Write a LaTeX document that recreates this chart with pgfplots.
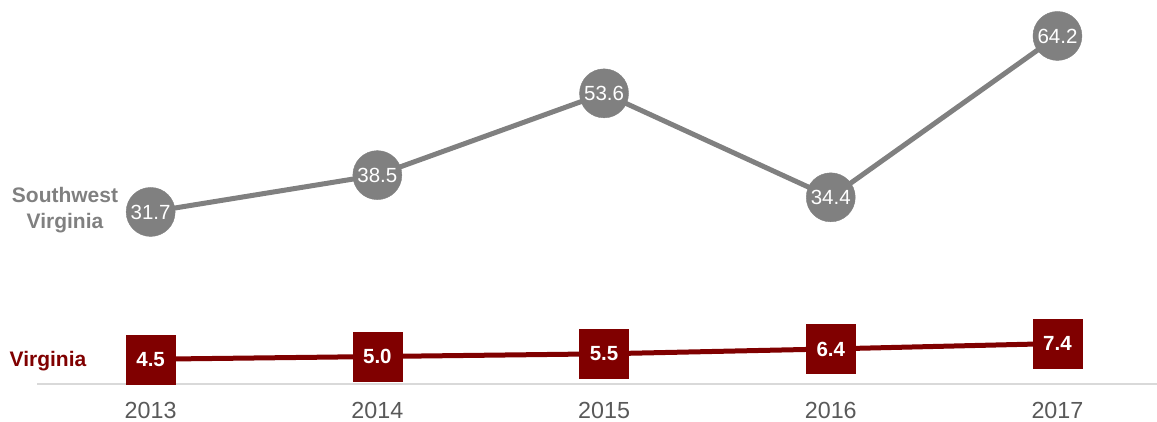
\documentclass[border=0pt]{standalone}
\usepackage{pgfplots}
\pgfplotsset{compat=1.18}
\usepackage{fontspec}
\setmainfont{Liberation Sans}
\definecolor{swgray}{HTML}{808080}
\definecolor{vared}{HTML}{800000}
\definecolor{ticktext}{HTML}{595959}
\definecolor{axisgray}{HTML}{D9D9D9}
\begin{document}
\begin{tikzpicture}
\path[use as bounding box] (0,0) rectangle (1157pt,421pt);
\begin{axis}[
  at={(37.3pt,37.4pt)}, anchor=south west,
  x=226.7pt, y=5.415pt,
  xmin=2012.5, xmax=2017.438, ymin=0, ymax=70.8,
  axis x line*=bottom, axis y line=none,
  x axis line style={-, draw=axisgray, line width=2pt},
  xtick={2013,2014,2015,2016,2017},
  xticklabels={2013,2014,2015,2016,2017},
  major tick length=0pt,
  xticklabel style={anchor=center, yshift=-26.5pt, inner sep=0pt, font=\fontsize{23.3}{26}\selectfont, text=ticktext},
  ytick=\empty,
  clip=false,
  point meta=explicit symbolic,
  nodes near coords,
  nodes near coords align={center},
  every node near coord/.append style={anchor=center, text=white, inner sep=0pt},
]
\addplot[draw=swgray, line width=5pt, mark=*, mark size=24.5pt,
  mark options={fill=swgray, draw=swgray, line width=0.4pt},
  every node near coord/.append style={font=\fontsize{20.5}{24}\selectfont}]
  coordinates {(2013,31.7) [31.7] (2014,38.5) [38.5] (2015,53.6) [53.6] (2016,34.4) [34.4] (2017,64.2) [64.2]};
\addplot[draw=vared, line width=5pt, mark=square*, mark size=24.5pt,
  mark options={fill=vared, draw=vared, line width=0.4pt},
  every node near coord/.append style={font=\bfseries\fontsize{20.5}{24}\selectfont}]
  coordinates {(2013,4.5) [4.5] (2014,5.0) [5.0] (2015,5.5) [5.5] (2016,6.4) [6.4] (2017,7.4) [7.4]};
\end{axis}
\node[font=\bfseries\fontsize{21}{26}\selectfont, text=swgray, align=center] at (65pt,211pt) {Southwest\\Virginia};
\node[font=\bfseries\fontsize{21}{26}\selectfont, text=vared] at (48pt,59.5pt) {Virginia};
\end{tikzpicture}
\end{document}
